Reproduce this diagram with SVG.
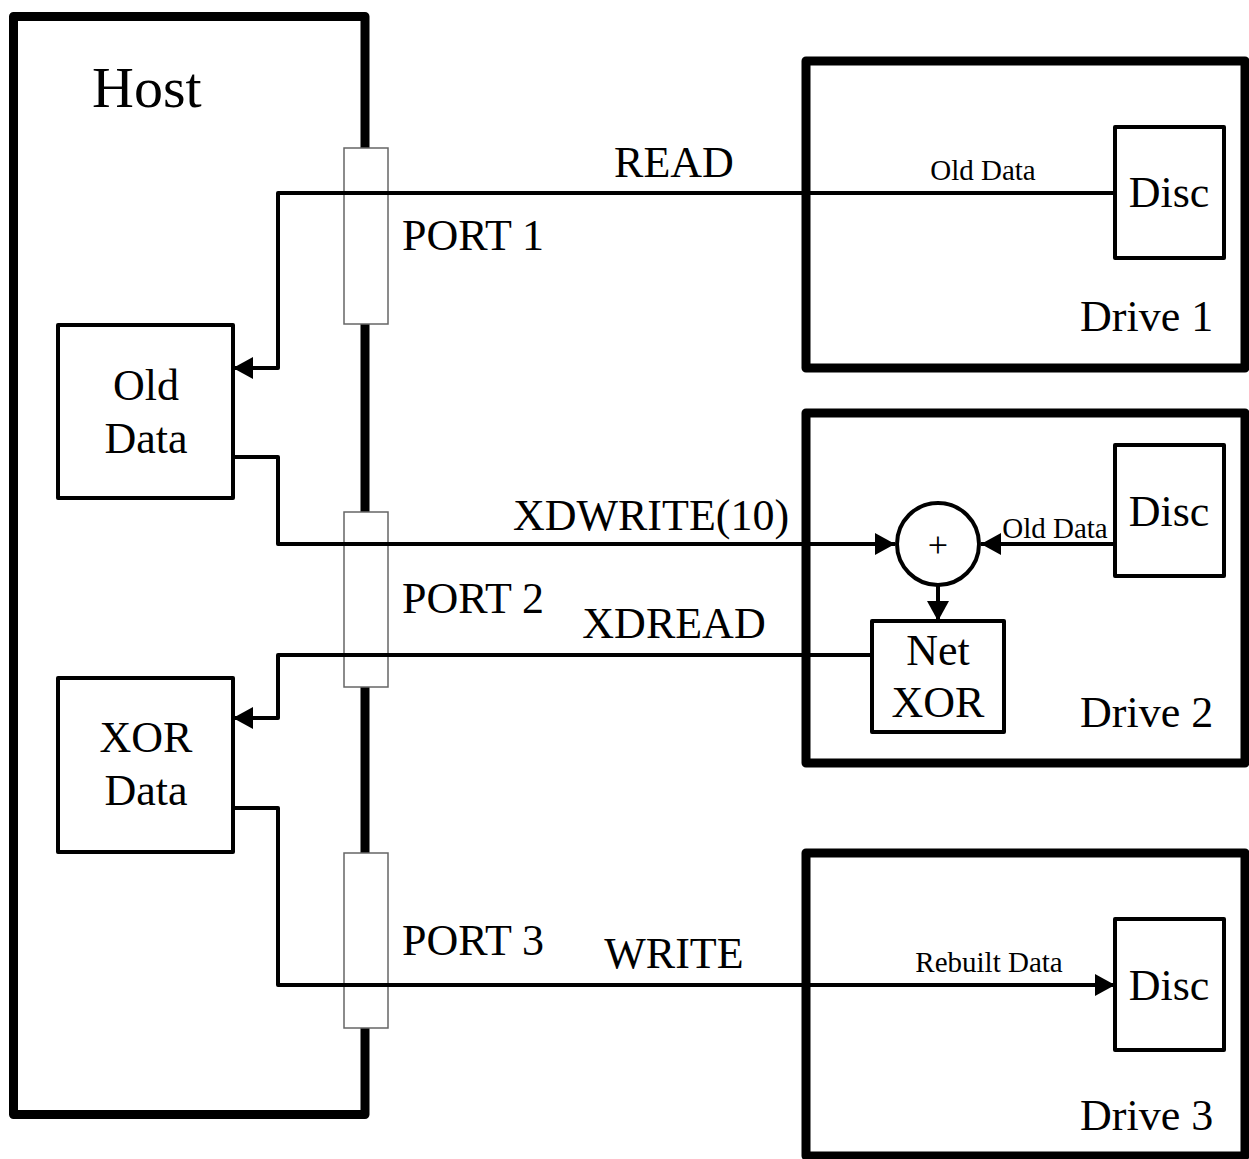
<svg xmlns="http://www.w3.org/2000/svg" width="1249" height="1159" viewBox="0 0 1249 1159">
<style>
text{font-family:"Liberation Serif","Times New Roman",serif;fill:#000}
.big{font-size:44px}
.small{font-size:29px}
.thick{fill:none;stroke:#000;stroke-width:9;stroke-linejoin:round}
.box{fill:#fff;stroke:#000;stroke-width:4;stroke-linejoin:round}
.port{fill:#fff;stroke:#666;stroke-width:1.5}
.wire{fill:none;stroke:#000;stroke-width:4;stroke-linejoin:round}
</style>
<defs>
<marker id="arr" markerWidth="20" markerHeight="22" refX="20" refY="11" orient="auto" markerUnits="userSpaceOnUse">
<path d="M0,0 L20,11 L0,22 Z" fill="#000"/>
</marker>
</defs>
<g id="host">
<rect class="thick" x="13.5" y="16.5" width="351.5" height="1098"/>
<text x="92" y="107" style="font-size:58px">Host</text>
</g>
<g id="port1"><rect class="port" x="344" y="148" width="44" height="176"/><text class="big" x="402" y="250">PORT 1</text></g>
<g id="port2"><rect class="port" x="344" y="512" width="44" height="175"/><text class="big" x="402" y="613">PORT 2</text></g>
<g id="port3"><rect class="port" x="344" y="853" width="44" height="175"/><text class="big" x="402" y="955">PORT 3</text></g>
<g id="olddata"><rect class="box" x="58" y="325" width="175" height="173"/><text class="big" x="146" y="400" text-anchor="middle">Old</text><text class="big" x="146" y="453" text-anchor="middle">Data</text></g>
<g id="xordata"><rect class="box" x="58" y="678" width="175" height="174"/><text class="big" x="146" y="752" text-anchor="middle">XOR</text><text class="big" x="146" y="805" text-anchor="middle">Data</text></g>
<g id="drive1"><rect class="thick" x="806" y="61" width="439" height="307"/><text class="big" x="1080" y="331">Drive 1</text></g>
<g id="drive2"><rect class="thick" x="806" y="413" width="439" height="350"/><text class="big" x="1080" y="727">Drive 2</text></g>
<g id="drive3"><rect class="thick" x="806" y="853" width="439" height="303"/><text class="big" x="1080" y="1130">Drive 3</text></g>
<g id="disc1"><rect class="box" x="1115" y="127" width="109" height="131"/><text class="big" x="1169" y="207" text-anchor="middle">Disc</text></g>
<g id="disc2"><rect class="box" x="1115" y="445" width="109" height="131"/><text class="big" x="1169" y="526" text-anchor="middle">Disc</text></g>
<g id="disc3"><rect class="box" x="1115" y="919" width="109" height="131"/><text class="big" x="1169" y="1000" text-anchor="middle">Disc</text></g>
<g id="xor"><circle cx="938" cy="544" r="41" fill="#fff" stroke="#000" stroke-width="4"/><text x="938" y="557" text-anchor="middle" style="font-size:36px">+</text></g>
<g id="netxor"><rect class="box" x="872" y="621" width="132" height="111"/><text class="big" x="938" y="665" text-anchor="middle">Net</text><text class="big" x="938" y="717" text-anchor="middle">XOR</text></g>
<g id="connectors">
<path class="wire" d="M1115,193 H278 V368 H233" marker-end="url(#arr)"/>
<path class="wire" d="M233,457 H278 V544 H895" marker-end="url(#arr)"/>
<path class="wire" d="M1115,544 H981" marker-end="url(#arr)"/>
<path class="wire" d="M938,585 V621" marker-end="url(#arr)"/>
<path class="wire" d="M872,655 H278 V718 H233" marker-end="url(#arr)"/>
<path class="wire" d="M233,808 H278 V985 H1115" marker-end="url(#arr)"/>
</g>
<g id="labels">
<text class="big" x="674" y="177" text-anchor="middle">READ</text>
<text class="small" x="983" y="180" text-anchor="middle">Old Data</text>
<text class="big" x="651" y="530" text-anchor="middle">XDWRITE(10)</text>
<text class="small" x="1055" y="538" text-anchor="middle">Old Data</text>
<text class="big" x="674" y="638" text-anchor="middle">XDREAD</text>
<text class="big" x="674" y="968" text-anchor="middle">WRITE</text>
<text class="small" x="989" y="972" text-anchor="middle">Rebuilt Data</text>
</g>
</svg>
